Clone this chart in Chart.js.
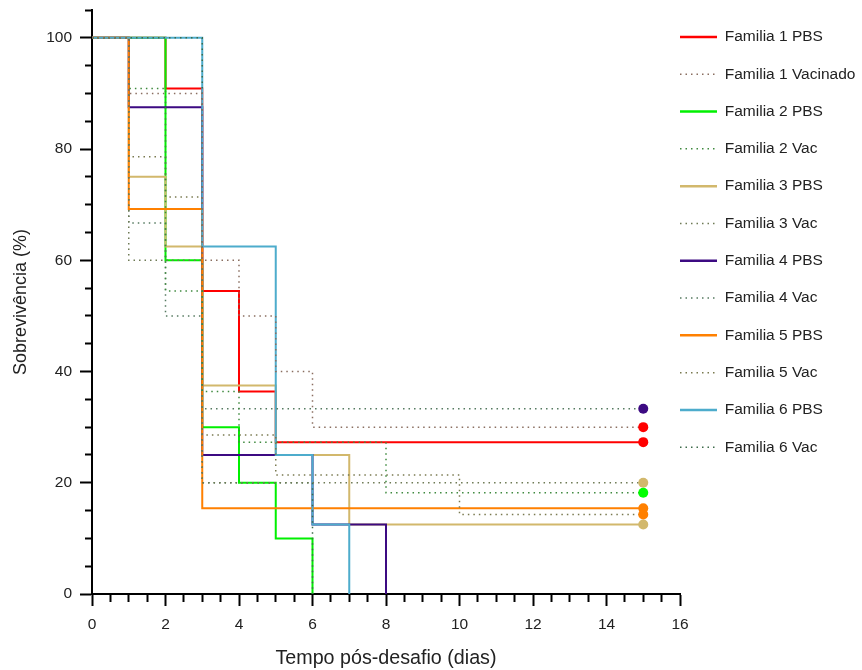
<!DOCTYPE html>
<html>
<head>
<meta charset="utf-8">
<script src="https://cdn.jsdelivr.net/npm/chart.js@4.4.0/dist/chart.umd.min.js"></script>
<style>
  html, body { margin: 0; padding: 0; background: #fff; }
  #wrap { width: 862px; height: 670px; }
</style>
</head>
<body>
<div id="wrap"><canvas id="grafico" width="862" height="670"></canvas></div>
<script>
const nomes = ['Familia 1 PBS', 'Familia 1 Vacinado', 'Familia 2 PBS', 'Familia 2 Vac',
  'Familia 3 PBS', 'Familia 3 Vac', 'Familia 4 PBS', 'Familia 4 Vac',
  'Familia 5 PBS', 'Familia 5 Vac', 'Familia 6 PBS', 'Familia 6 Vac'];

// tempo (dias) e sobrevivencia (%) de cada curva de Kaplan-Meier
const fam1PbsDias = [0, 2, 3, 4, 5, 15];
const fam1PbsSobr = [100, 90.9, 54.5, 36.4, 27.3, 27.3];
const fam1VacDias = [0, 1, 3, 4, 5, 6, 15];
const fam1VacSobr = [100, 90, 60, 50, 40, 30, 30];
const fam2PbsDias = [0, 2, 3, 4, 5, 6];
const fam2PbsSobr = [100, 60, 30, 20, 10, 0];
const fam2VacDias = [0, 1, 2, 3, 4, 8, 15];
const fam2VacSobr = [100, 90.9, 54.5, 36.4, 27.3, 18.2, 18.2];
const fam3PbsDias = [0, 1, 2, 3, 5, 7, 15];
const fam3PbsSobr = [100, 75, 62.5, 37.5, 25, 12.5, 12.5];
const fam3VacDias = [0, 1, 3, 15];
const fam3VacSobr = [100, 60, 20, 20];
const fam4PbsDias = [0, 1, 3, 6, 8];
const fam4PbsSobr = [100, 87.5, 25, 12.5, 0];
const fam4VacDias = [0, 1, 2, 3, 15];
const fam4VacSobr = [100, 66.7, 50, 33.3, 33.3];
const fam5PbsDias = [0, 1, 3, 15];
const fam5PbsSobr = [100, 69.2, 15.4, 15.4];
const fam5VacDias = [0, 1, 2, 3, 5, 10, 15];
const fam5VacSobr = [100, 78.6, 71.4, 28.6, 21.4, 14.3, 14.3];
const fam6PbsDias = [0, 3, 5, 6, 7];
const fam6PbsSobr = [100, 62.5, 25, 12.5, 0];
const fam6VacDias = [0, 3, 6];
const fam6VacSobr = [100, 20, 0];

// curvas que terminam censuradas (marcador no ultimo dia)
const censurado = [true, true, false, true, true, true, false, true, true, true, false, false];

const xTicks = [0, 2, 4, 6, 8, 10, 12, 14, 16];
const yTicks = [0, 20, 40, 60, 80, 100];

const todosDias = [fam1PbsDias, fam1VacDias, fam2PbsDias, fam2VacDias, fam3PbsDias, fam3VacDias,
  fam4PbsDias, fam4VacDias, fam5PbsDias, fam5VacDias, fam6PbsDias, fam6VacDias];
const todasSobr = [fam1PbsSobr, fam1VacSobr, fam2PbsSobr, fam2VacSobr, fam3PbsSobr, fam3VacSobr,
  fam4PbsSobr, fam4VacSobr, fam5PbsSobr, fam5VacSobr, fam6PbsSobr, fam6VacSobr];

const corLinha = ['#ff0000', '#8a6e60', '#00f000', '#3f8a3f', '#d2b86c', '#6e7a55',
  '#3c0a82', '#557a60', '#ff8000', '#7a7a50', '#4daccc', '#3d6b4a'];
const corPonto = ['#ff0000', '#ff0000', '#00ff00', '#00ff00', '#d2b86c', '#d2b86c',
  '#3c0a82', '#3c0a82', '#ff8000', '#ff8000', '#4daccc', '#4daccc'];

const FONTE = 'Arial, "Liberation Sans", sans-serif';

const datasets = nomes.map((nome, i) => {
  const pbs = i % 2 === 0;
  const dias = todosDias[i];
  const ultimo = dias.length - 1;
  return {
    label: nome,
    data: dias.map((d, k) => ({ x: d, y: todasSobr[i][k] })),
    stepped: true,
    fill: false,
    borderColor: corLinha[i],
    borderWidth: pbs ? 2 : 1.5,
    borderDash: pbs ? [] : [1.5, 4],
    pointRadius: dias.map((d, k) => (k === ultimo && censurado[i]) ? 5 : 0),
    pointHoverRadius: 0,
    pointBackgroundColor: corPonto[i],
    pointBorderWidth: 0,
    order: pbs ? 7 - (i / 2 + 1) : 0
  };
});

const ctx = document.getElementById('grafico').getContext('2d');
const chart = new Chart(ctx, {
  type: 'line',
  data: { datasets: datasets },
  options: {
    responsive: false,
    animation: false,
    devicePixelRatio: 1,
    layout: { padding: { top: 10 } },
    plugins: {
      tooltip: { enabled: false },
      legend: {
        position: 'right',
        align: 'start',
        maxWidth: 182,
        title: { display: true, text: ' ', font: { size: 1 }, padding: { top: 18, bottom: 0 } },
        labels: {
          padding: 0,
          usePointStyle: true,
          pointStyle: 'line',
          pointStyleWidth: 37,
          color: '#222',
          font: { size: 15.5, family: FONTE, lineHeight: 37.3 / 15.5 },
          generateLabels: c => c.data.datasets.map((ds, i) => ({
            text: [ds.label],
            strokeStyle: ds.borderColor,
            fillStyle: ds.borderColor,
            lineWidth: ds.borderDash.length ? 1.5 : 2.5,
            lineDash: ds.borderDash,
            pointStyle: 'line',
            fontColor: '#222',
            hidden: false,
            datasetIndex: i
          }))
        }
      }
    },
    scales: {
      x: {
        type: 'linear',
        min: 0,
        max: 16,
        ticks: {
          stepSize: 0.5,
          autoSkip: false,
          maxRotation: 0,
          padding: 9,
          color: '#222',
          font: { size: 15.5, family: FONTE },
          callback: v => xTicks.includes(v) ? String(v) : ''
        },
        grid: {
          drawOnChartArea: false,
          tickLength: 12,
          tickColor: '#000',
          tickWidth: 2,
          tickBorderDash: c => xTicks.includes(c.tick.value) ? [] : [7, 100]
        },
        border: { display: true, color: '#000', width: 2 },
        title: {
          display: true,
          text: 'Tempo pós-desafio (dias)',
          color: '#222',
          font: { size: 19.7, family: FONTE },
          padding: { top: 4, bottom: 0 }
        },
        afterFit: s => { s.height = 76; }
      },
      y: {
        min: 0,
        max: 105,
        ticks: {
          stepSize: 5,
          autoSkip: false,
          padding: 8,
          color: '#222',
          font: { size: 15.5, family: FONTE, lineHeight: 0.1 },
          callback: v => yTicks.includes(v) ? String(v) : ''
        },
        grid: {
          drawOnChartArea: false,
          tickLength: 12,
          tickColor: '#000',
          tickWidth: 2,
          tickBorderDash: c => yTicks.includes(c.tick.value) ? [] : [7, 100],
          tickBorderDashOffset: c => yTicks.includes(c.tick.value) ? 0 : 102
        },
        border: { display: true, color: '#000', width: 2 },
        title: {
          display: true,
          text: 'Sobrevivência (%)',
          color: '#222',
          font: { size: 18, family: FONTE },
          padding: { top: 10, bottom: 4 }
        },
        afterFit: s => { s.width = 92; }
      }
    }
  }
});
</script>
</body>
</html>
